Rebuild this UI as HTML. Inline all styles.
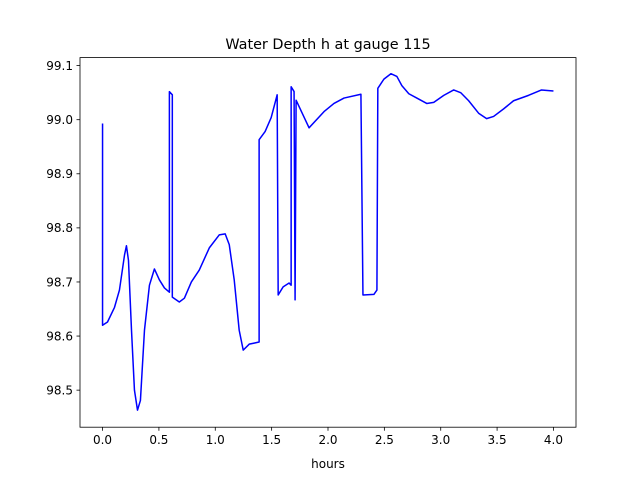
<!DOCTYPE html>
<html><head><meta charset="utf-8"><style>
html,body{margin:0;padding:0;background:#fff;}
svg{display:block;font-family:"DejaVu Sans","Liberation Sans",sans-serif;}
</style></head><body>
<svg id="chart" width="640" height="480" viewBox="0 0 640 480">
<rect x="0" y="0" width="640" height="480" fill="#fff"/>
<text x="328" y="49" text-anchor="middle" font-size="14.4">Water Depth h at gauge 115</text>
<text x="328" y="468" text-anchor="middle" font-size="12">hours</text>
<g id="ticks"></g>
<polyline id="series" fill="none" stroke="#0000ff" stroke-width="1.5" stroke-linejoin="round"/>
<rect x="80" y="57.6" width="496" height="369.6" fill="none" stroke="#000" stroke-width="0.8"/>
</svg>
<script>
const hours = [0,0,0.044,0.106,0.15,0.195,0.212,0.23,0.257,0.283,0.31,0.336,0.372,0.416,0.46,0.504,0.549,0.593,0.593,0.619,0.619,0.681,0.726,0.788,0.858,0.947,1.035,1.088,1.124,1.168,1.212,1.248,1.301,1.345,1.389,1.389,1.442,1.496,1.549,1.558,1.602,1.655,1.673,1.673,1.699,1.708,1.717,1.832,1.965,2.053,2.142,2.292,2.31,2.407,2.434,2.442,2.496,2.558,2.611,2.655,2.717,2.788,2.876,2.938,3.027,3.115,3.177,3.248,3.336,3.407,3.469,3.558,3.646,3.779,3.894,4.0];
const depth = [98.993,98.62,98.626,98.653,98.685,98.75,98.767,98.74,98.61,98.5,98.463,98.481,98.611,98.694,98.724,98.704,98.689,98.681,99.052,99.046,98.672,98.663,98.67,98.7,98.722,98.763,98.787,98.789,98.769,98.704,98.611,98.574,98.585,98.587,98.589,98.963,98.978,99.004,99.046,98.676,98.691,98.698,98.694,99.061,99.052,98.667,99.036,98.985,99.015,99.03,99.04,99.047,98.676,98.677,98.685,99.058,99.075,99.085,99.08,99.063,99.048,99.04,99.03,99.032,99.045,99.055,99.05,99.035,99.012,99.002,99.006,99.02,99.035,99.045,99.055,99.053];
const xTicks = [0,0.5,1,1.5,2,2.5,3,3.5,4];
const xTickLabels = ["0.0","0.5","1.0","1.5","2.0","2.5","3.0","3.5","4.0"];
const yTicks = [98.5,98.6,98.7,98.8,98.9,99.0,99.1];
const yTickLabels = ["98.5","98.6","98.7","98.8","98.9","99.0","99.1"];

const L=80,R=576,T=57.6,B=427.2;
const xMin=-0.2,xMax=4.2,yMin=98.4315,yMax=99.1148;
const sx=v=>L+(v-xMin)/(xMax-xMin)*(R-L);
const sy=v=>B-(v-yMin)/(yMax-yMin)*(B-T);
const NS="http://www.w3.org/2000/svg";
const g=document.getElementById('ticks');
xTicks.forEach((t,i)=>{
  const l=document.createElementNS(NS,'line');
  l.setAttribute('x1',sx(t));l.setAttribute('x2',sx(t));l.setAttribute('y1',B);l.setAttribute('y2',B+3.5);
  l.setAttribute('stroke','#000');l.setAttribute('stroke-width','0.8');
  
  
  g.appendChild(l);
  const tx=document.createElementNS(NS,'text');
  tx.setAttribute('x',sx(t));tx.setAttribute('y',B+17);tx.setAttribute('text-anchor','middle');tx.setAttribute('font-size','12');
  tx.textContent=xTickLabels[i];
  
  
  g.appendChild(tx);
});
yTicks.forEach((t,i)=>{
  const l=document.createElementNS(NS,'line');
  l.setAttribute('x1',L-3.5);l.setAttribute('x2',L);l.setAttribute('y1',sy(t));l.setAttribute('y2',sy(t));
  l.setAttribute('stroke','#000');l.setAttribute('stroke-width','0.8');
  
  
  g.appendChild(l);
  const tx=document.createElementNS(NS,'text');
  tx.setAttribute('x',L-7);tx.setAttribute('y',sy(t)+4.3);tx.setAttribute('text-anchor','end');tx.setAttribute('font-size','12');
  tx.textContent=yTickLabels[i];
  
  
  g.appendChild(tx);
});
document.getElementById('series').setAttribute('points',hours.map((h,i)=>sx(h).toFixed(2)+','+sy(depth[i]).toFixed(2)).join(' '));
</script>
</body></html>
